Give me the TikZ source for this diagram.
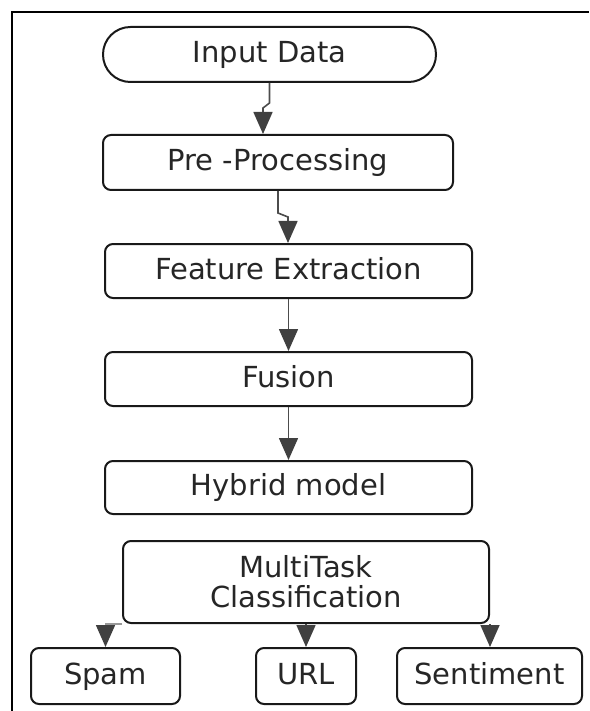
\documentclass[tikz,border=0pt]{standalone}
\usepackage{fontspec}
\setmainfont{DejaVu Sans}
\usetikzlibrary{arrows.meta}

\begin{document}
\begin{tikzpicture}[
    x=0.5pt, y=-0.5pt, >={Triangle[width=9.5pt, length=11pt, color=black!75]},
    % Box styles
    base box/.style={
        rectangle,
        rounded corners=4pt,
        draw=black!90,
        line width=1pt,
        minimum width=183.5pt,
        minimum height=27pt,
        inner sep=0pt,
        text=black!85,
        font=\fontsize{14.5}{15}\selectfont
    },
    stage/.style={base box, text height=10.6pt, text depth=2.4pt},
    terminal/.style={stage, rounded corners=13.7pt},
    % Edge styles
    flow edge/.style={->, draw=black!70, line width=0.8pt},
    light edge/.style={flow edge, draw=black!40}
]
\useasboundingbox (0,0) rectangle (589,711);

% Frame (left and top only)
\draw[line width=1pt] (12,711) -- (12,12.5) -- (589,12.5);

% -------------------------------
% Main pipeline
\node[terminal, minimum width=166.5pt, minimum height=27.5pt] (input) at (269.5,54.5) {Input Data};
\node[stage, minimum width=175pt, minimum height=27.5pt] (pre) at (278,162.5) {Pre -Processing};
\node[stage] (feat) at (288.5,271) {Feature Extraction};
\node[stage] (fusion) at (288.5,379) {Fusion};
\node[stage, minimum height=26.5pt] (hybrid) at (288.5,487.5) {Hybrid model};
\node[base box, minimum width=183pt, minimum height=41pt, align=center] (multi) at (306,582) {MultiTask\\Classification};

% -------------------------------
% Task outputs
\foreach \name/\x/\w/\txt in {spam/105.5/74.5/Spam, url/306/50/URL, sentiment/489.5/92.5/Sentiment}
{
    \node[stage, minimum width=\w pt, minimum height=28pt] (\name) at (\x,676) {\txt};
}

% -------------------------------
% Connectors with a small jog
\coordinate (bendA) at (263,108);
\coordinate (bendB) at (288,217);
\draw[flow edge] (input.south) -- ++(0,20) -- (bendA) -- (bendA |- pre.north);
\draw[flow edge] (pre.south) -- ++(0,22) -- (bendB) -- (bendB |- feat.north);

% Straight connectors
\foreach \a/\b in {feat/fusion, fusion/hybrid}
    \draw[flow edge] (\a) -- (\b);

% -------------------------------
% MultiTask to the three tasks
\draw[light edge] (multi.south west) -| (spam.north);
\draw[flow edge] (multi.south) -- (url.north);
\draw[flow edge] (multi.south east) -- (multi.south east |- sentiment.north);
\end{tikzpicture}
\end{document}
